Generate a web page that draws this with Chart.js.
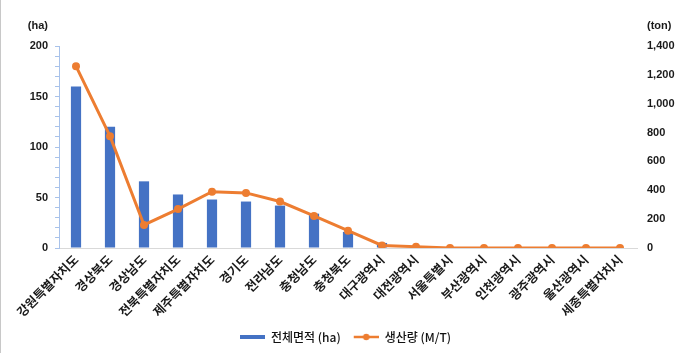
<!DOCTYPE html>
<html>
<head>
<meta charset="utf-8">
<script src="https://cdn.jsdelivr.net/npm/chart.js@4/dist/chart.umd.min.js"></script>
<style>
html,body{margin:0;padding:0;background:#fff;}
#wrap{position:relative;width:680px;height:353px;}
#edge{position:absolute;left:0;top:0;width:1px;height:353px;background:#c8c8c8;}
</style>
</head>
<body>
<div id="wrap"><canvas id="c" width="680" height="353"></canvas><div id="edge"></div></div>
<script>
const categories = ['강원특별자치도','경상북도','경상남도','전북특별자치도','제주특별자치도','경기도','전라남도','충청남도','충청북도','대구광역시','대전광역시','서울특별시','부산광역시','인천광역시','광주광역시','울산광역시','세종특별자치시'];
const areaHa = [160,120,66,53,48,46,42,34,16,5,0,0,0,0,0,0,0];
const productionTon = [1260,775,160,270,390,382,322,222,120,18,9,0,0,0,0,0,0];
const leftTicks = [0,50,100,150,200];
const rightTicks = [0,200,400,600,800,1000,1200,1400];

const BLUE = '#4472C4', ORANGE = '#ED7D31';
const NUMFONT = "'Liberation Sans', Arial, sans-serif";
const KFONT = "'Noto Sans CJK KR', 'Liberation Sans', sans-serif";

function legendImg(kind){
  const cv = document.createElement('canvas');
  cv.width = 36; cv.height = 10;
  const g = cv.getContext('2d');
  if(kind==='bar'){
    g.fillStyle = BLUE; g.fillRect(11,3,25,4);
  } else {
    g.strokeStyle = ORANGE; g.lineWidth = 2.5;
    g.beginPath(); g.moveTo(11,5); g.lineTo(36,5); g.stroke();
    g.fillStyle = ORANGE; g.beginPath(); g.arc(23.5,5,3.2,0,Math.PI*2); g.fill();
  }
  return cv;
}
const imgBar = legendImg('bar'), imgLine = legendImg('line');

const unitTitles = {
  id:'unitTitles',
  afterDraw(chart){
    const ctx = chart.ctx;
    ctx.save();
    ctx.font = "bold 11px " + NUMFONT;
    ctx.fillStyle = '#1a1a1a';
    ctx.textBaseline = 'middle';
    ctx.textAlign = 'right';
    ctx.fillText('(ha)', 48, 26);
    ctx.textAlign = 'left';
    ctx.fillText('(ton)', 647, 26);
    ctx.restore();
  }
};

new Chart(document.getElementById('c'), {
  data: {
    labels: categories,
    datasets: [
      { type:'line', label:'생산량 (M/T)', data: productionTon, yAxisID:'y1',
        borderColor: ORANGE, backgroundColor: ORANGE, borderWidth: 3,
        pointRadius: 4, pointHoverRadius: 4, pointBackgroundColor: ORANGE, pointBorderWidth: 0,
        tension: 0, order: 0 },
      { type:'bar', label:'전체면적 (ha)', data: areaHa, yAxisID:'y',
        backgroundColor: BLUE, barPercentage: 0.3, categoryPercentage: 1.0, order: 1 }
    ]
  },
  options: {
    responsive: false,
    animation: false,
    layout: { padding: { top: 46, left: 0, right: 0, bottom: 0 } },
    plugins: {
      tooltip: { enabled: false },
      legend: {
        position: 'bottom',
        labels: {
          usePointStyle: true,
          pointStyleWidth: 36,
          boxHeight: 10,
          padding: 2,
          color: '#111',
          font: { family: KFONT, size: 12, weight: '500' },
          generateLabels(chart){
            const items = Chart.defaults.plugins.legend.labels.generateLabels(chart);
            items.forEach(it => { it.pointStyle = it.datasetIndex === 1 ? imgBar : imgLine; });
            items.sort((a,b) => b.datasetIndex - a.datasetIndex);
            return items;
          }
        }
      }
    },
    scales: {
      x: {
        type: 'category',
        offset: true,
        grid: { display: false, drawTicks: false },
        border: { display: true, color: '#d9d9d9', width: 1 },
        ticks: {
          autoSkip: false, maxRotation: 45, minRotation: 45, padding: 4,
          color: '#1a1a1a', font: { family: KFONT, size: 12.5, weight: 'bold' }
        },
        afterFit(scale){ scale.height = 353 - 248 - (scale.chart.legend ? scale.chart.legend.height : 26); }
      },
      y: {
        position: 'left', min: 0, max: 200,
        grid: { drawOnChartArea: false, drawTicks: true, tickLength: 4, color: '#a8c2ea' },
        border: { display: true, color: '#a8c2ea', width: 1 },
        ticks: {
          stepSize: 10, autoSkip: false, padding: 7,
          color: '#1a1a1a', font: { family: NUMFONT, size: 11, weight: 'bold' },
          callback(v){ return leftTicks.includes(v) ? String(v) : ''; }
        },
        afterFit(scale){ scale.width = 59; }
      },
      y1: {
        position: 'right', min: 0, max: 1400,
        grid: { display: false, drawTicks: false },
        border: { display: false },
        ticks: {
          stepSize: 200, padding: 10,
          color: '#1a1a1a', font: { family: NUMFONT, size: 11, weight: 'bold' },
          callback(v){ return rightTicks.includes(v) ? v.toLocaleString('en-US') : ''; }
        },
        afterFit(scale){ scale.width = 43; }
      }
    }
  },
  plugins: [unitTitles]
});
</script>
</body>
</html>
